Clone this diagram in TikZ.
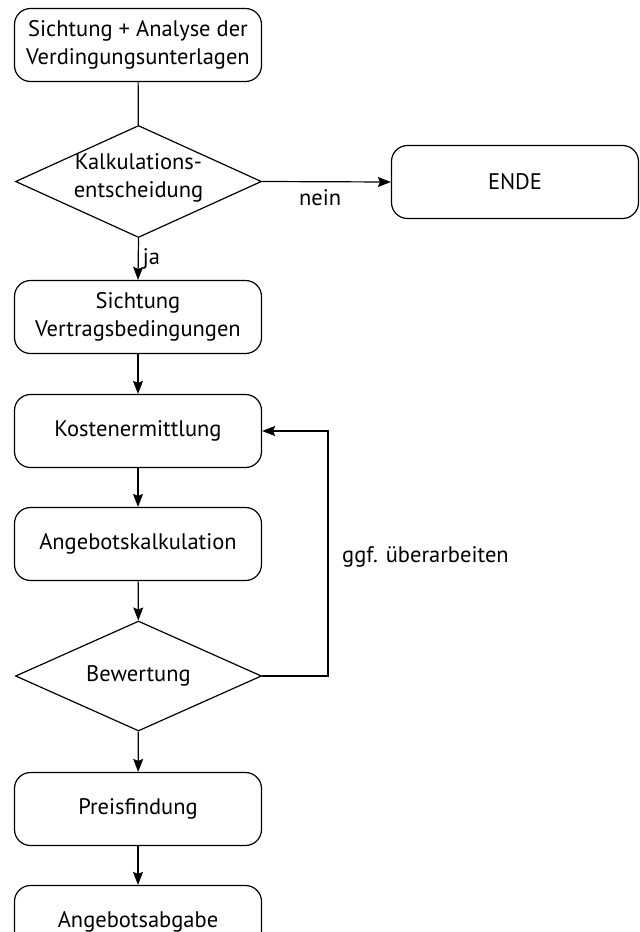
\documentclass[tikz,border=0pt]{standalone}
\usepackage{fontspec}
\setmainfont{PT Sans}
\usetikzlibrary{shapes.geometric,arrows.meta}
\begin{document}
\begin{tikzpicture}[x=1pt,y=-1pt,
 box/.style={draw, rounded corners=16pt, minimum width=247pt, minimum height=73pt, align=center, inner sep=0pt, line width=1.2pt},
 dec/.style={draw, diamond, minimum width=246pt, minimum height=112pt, inner sep=0pt, line width=1.2pt},
 conn/.style={line width=1.2pt},
 arr/.style={conn, -{Stealth[length=13pt,width=10pt,inset=2pt]}},
 lbl/.style={font=\fontsize{22.5}{28}\selectfont, align=center, inner sep=0pt},
 every node/.style={font=\fontsize{22.5}{28}\selectfont}]
\path[use as bounding box] (0,0) rectangle (640,932);
\clip (0,0) rectangle (640,932);
\node[box] (a) at (138,45) {Sichtung + Analyse der\\Verdingungsunterlagen};
\node[dec] (d1) at (138.5,181.5) {};
\node[lbl] (d1t) at (138.5,178) {Kalkulations-\\entscheidung};
\node[box] (ende) at (515,182) {ENDE};
\node[box] (v) at (138,317) {Sichtung\\Vertragsbedingungen};
\node[box] (k) at (138,431) {Kostenermittlung};
\node[box] (ak) at (138,544) {Angebotskalkulation};
\node[dec, minimum height=110pt] (d2) at (138.5,676) {};
\node[lbl] (d2t) at (138.5,676) {Bewertung};
\node[box] (p) at (138,809) {Preisfindung};
\node[box] (ab) at (138,922) {Angebotsabgabe};
\coordinate (fb) at (328,431);
\draw[conn] (a) -- (d1);
\draw[arr] (d1.east) -- node[lbl, below=7pt, pos=0.45] (nein) {nein} (ende.west);
\draw[arr] (d1.south) -- node[lbl, right=4pt, pos=0.5] (ja) {ja} (v.north);
\draw[arr] (v) -- (k);
\draw[arr] (k) -- (ak);
\draw[arr] (ak) -- (d2);
\draw[arr] (d2) -- (p);
\draw[arr] (p) -- (ab);
\draw[arr] (d2.east) -| (fb) -- (k.east);
\node[lbl, anchor=west] (ggf) at (342,557) {ggf. überarbeiten};
\end{tikzpicture}
\end{document}
